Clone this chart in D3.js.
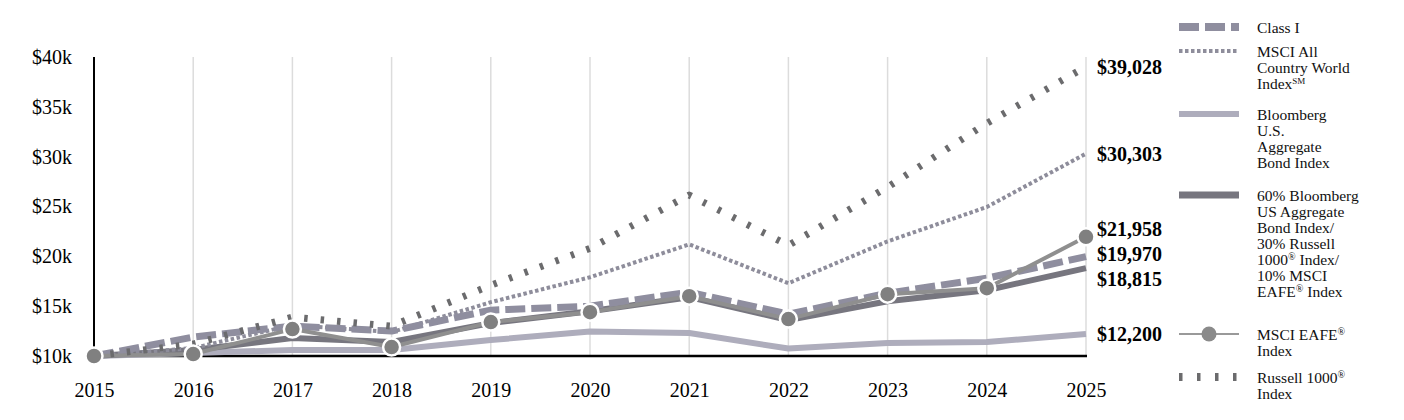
<!DOCTYPE html>
<html>
<head>
<meta charset="utf-8">
<script src="https://cdn.jsdelivr.net/npm/d3@7"></script>
<style>
  body { margin: 0; background: #fff; }
  svg { display: block; font-family: "Liberation Serif", "Times New Roman", serif; }
</style>
</head>
<body>
<svg id="chart" width="1404" height="420"></svg>
<script>
// --- datos ---
const years = [2015, 2016, 2017, 2018, 2019, 2020, 2021, 2022, 2023, 2024, 2025];
const classI  = [10000, 11900, 13000, 12500, 14600, 15000, 16400, 14200, 16300, 17800, 19970];
const acwi    = [10000, 10800, 13100, 12400, 15400, 17900, 21200, 17300, 21500, 24950, 30303];
const agg     = [10000, 10300, 10600, 10600, 11600, 12450, 12300, 10750, 11300, 11400, 12200];
const blend   = [10000, 10600, 11800, 11400, 13300, 14500, 15900, 13600, 15500, 16600, 18815];
const eafe    = [10000, 10200, 12700, 10900, 13400, 14400, 16000, 13700, 16200, 16800, 21958];
const russell = [10000, 11200, 13900, 13000, 17100, 20800, 26150, 21100, 26950, 33350, 39028];
const yTicks  = [10000, 15000, 20000, 25000, 30000, 35000, 40000];

const svg = d3.select("#chart");

const x = d3.scaleLinear().domain([2015, 2025]).range([94, 1086]);
const y = d3.scaleLinear().domain([10000, 40000]).range([356, 57]);

// --- rejilla vertical ---
svg.append("g")
    .selectAll("line")
    .data(years.slice(1))
    .join("line")
    .attr("x1", d => x(d)).attr("x2", d => x(d))
    .attr("y1", y(40000)).attr("y2", y(10000))
    .attr("stroke", "#dcdcdc")
    .attr("stroke-width", 1.5);

// --- ejes ---
const yAxis = svg.append("g")
    .attr("transform", `translate(${x(2015)},0)`)
    .call(d3.axisLeft(y).tickValues(yTicks).tickFormat(d => `$${d / 1000}k`).tickSize(0).tickPadding(22));
yAxis.select(".domain").remove();
yAxis.selectAll("text").attr("font-size", 20).attr("fill", "#000").attr("font-family", "Liberation Serif");

const xAxis = svg.append("g")
    .attr("transform", `translate(0,${y(10000)})`)
    .call(d3.axisBottom(x).tickValues(years).tickFormat(d3.format("d")).tickSize(0).tickPadding(27));
xAxis.select(".domain").remove();
xAxis.selectAll("text").attr("font-size", 20).attr("fill", "#000").attr("font-family", "Liberation Serif");

svg.append("line")
    .attr("x1", x(2015)).attr("x2", x(2015))
    .attr("y1", y(40000)).attr("y2", y(10000) + 1)
    .attr("stroke", "#000").attr("stroke-width", 2);
svg.append("line")
    .attr("x1", x(2015)).attr("x2", x(2025) + 1)
    .attr("y1", y(10000)).attr("y2", y(10000))
    .attr("stroke", "#000").attr("stroke-width", 2.5);

// --- series ---
const line = d3.line().x((d, i) => x(years[i])).y(d => y(d));

const series = [
    { name: "agg",     values: agg,     color: "#aeadbc", width: 6,   dash: null },
    { name: "blend",   values: blend,   color: "#77767f", width: 6,   dash: null },
    { name: "acwi",    values: acwi,    color: "#8e8d9b", width: 4,   dash: "3.5,2.5" },
    { name: "classI",  values: classI,  color: "#8f8e9f", width: 7,   dash: "20,6" },
    { name: "eafe",    values: eafe,    color: "#8f8f8f", width: 4,   dash: null },
    { name: "russell", values: russell, color: "#6b6b6d", width: 7,   dash: "3.5,13" }
];

series.forEach(s => {
    svg.append("path")
        .datum(s.values)
        .attr("d", line)
        .attr("fill", "none")
        .attr("stroke", s.color)
        .attr("stroke-width", s.width)
        .attr("stroke-dasharray", s.dash)
        .attr("stroke-linejoin", "round");
});

svg.append("g")
    .selectAll("circle")
    .data(eafe)
    .join("circle")
    .attr("cx", (d, i) => x(years[i]))
    .attr("cy", d => y(d))
    .attr("r", 8.5)
    .attr("fill", "#808080")
    .attr("stroke", "#fff")
    .attr("stroke-width", 2.5);

// --- etiquetas de valor final (evitando solapes) ---
const endValues = [russell, acwi, eafe, classI, blend, agg].map(v => v[v.length - 1]);
const labels = endValues.map(v => ({ v, pos: y(v) })).sort((a, b) => a.pos - b.pos);
const gap = 25;
for (let iter = 0; iter < 200; iter++) {
    for (let i = 1; i < labels.length; i++) {
        const d = labels[i].pos - labels[i - 1].pos;
        if (d < gap) {
            const shift = (gap - d) / 2;
            labels[i - 1].pos -= shift;
            labels[i].pos += shift;
        }
    }
}
svg.append("g")
    .selectAll("text")
    .data(labels)
    .join("text")
    .attr("x", 1097)
    .attr("y", d => d.pos)
    .attr("dy", "0.35em")
    .attr("font-size", 20)
    .attr("font-weight", "bold")
    .text(d => "$" + d3.format(",")(d.v));

// --- leyenda ---
const legend = [
    { lineY: 27,  color: "#8f8e9f", width: 8, dash: "20,6",    lines: [["Class I"]] },
    { lineY: 51,  color: "#8e8d9b", width: 4, dash: "3.5,2.5", lines: [["MSCI All"], ["Country World"], ["Index", "SM"]] },
    { lineY: 114, color: "#aeadbc", width: 6, dash: null,      lines: [["Bloomberg"], ["U.S."], ["Aggregate"], ["Bond Index"]] },
    { lineY: 195, color: "#77767f", width: 7, dash: null,      lines: [["60% Bloomberg"], ["US Aggregate"], ["Bond Index/"], ["30% Russell"], ["1000", "®", " Index/"], ["10% MSCI"], ["EAFE", "®", " Index"]] },
    { lineY: 334, color: "#999999", width: 2, dash: null,      lines: [["MSCI EAFE", "®"], ["Index"]], marker: true },
    { lineY: 377, color: "#6b6b6d", width: 8, dash: "3.5,14.5", lines: [["Russell 1000", "®"], ["Index"]] }
];

const lg = svg.append("g");
legend.forEach(item => {
    lg.append("line")
        .attr("x1", 1179).attr("x2", 1239)
        .attr("y1", item.lineY).attr("y2", item.lineY)
        .attr("stroke", item.color)
        .attr("stroke-width", item.width)
        .attr("stroke-dasharray", item.dash);
    if (item.marker) {
        lg.append("circle")
            .attr("cx", 1209).attr("cy", item.lineY)
            .attr("r", 7.5).attr("fill", "#8a8a8a");
    }
    item.lines.forEach((parts, i) => {
        const t = lg.append("text")
            .attr("x", 1257)
            .attr("y", item.lineY + 1 + i * 16)
            .attr("dy", "0.35em")
            .attr("font-size", 15.5)
            .attr("fill", "#111");
        parts.forEach((p, j) => {
            const ts = t.append("tspan").text(p);
            // los índices impares son superíndices (®, SM)
            if (j % 2 === 1) {
                ts.attr("font-size", p === "SM" ? 9 : 10).attr("baseline-shift", "super");
            }
        });
    });
});
</script>
</body>
</html>
